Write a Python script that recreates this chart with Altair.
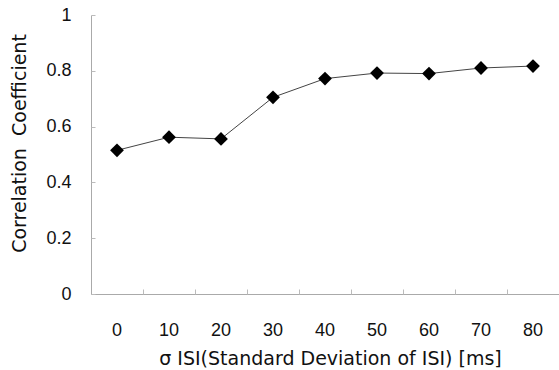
import altair as alt
import pandas as pd

sigma = ["0", "10", "20", "30", "40", "50", "60", "70", "80"]
corr = [0.515, 0.562, 0.556, 0.705, 0.772, 0.792, 0.790, 0.810, 0.817]
y_ticks = [0, 0.2, 0.4, 0.6, 0.8, 1.0]

df = pd.DataFrame({"sigma": sigma, "corr": corr})

FONT = "Liberation Sans"
TFONT = "DejaVu Sans"

x_scale = alt.Scale(type="band", domain=sigma, paddingInner=0, paddingOuter=0)
y_scale = alt.Scale(domain=[0, 1], nice=False)

base = alt.Chart(df)

line = base.mark_line(color="#444", strokeWidth=1).encode(
    x=alt.X("sigma:N", scale=x_scale, sort=sigma,
            axis=alt.Axis(title="σ ISI(Standard Deviation of ISI) [ms]",
                          labelAngle=0, ticks=False, labelPadding=27,
                          labelFontSize=18, labelFont=FONT, labelColor="#111",
                          titleFontSize=19, titleFont=TFONT, titleFontWeight="normal",
                          titleColor="#111", titleBaseline="alphabetic",
                          titleX=239, titleY=70,
                          domainColor="#aaa", domainWidth=1)),
    y=alt.Y("corr:Q", scale=y_scale,
            axis=alt.Axis(title="Correlation\u00a0\u00a0Coefficient", values=y_ticks,
                          format=".1~f", ticks=False, labelPadding=20,
                          labelFontSize=18, labelFont=FONT, labelColor="#111",
                          titleFontSize=19, titleFont=TFONT, titleFontWeight="normal",
                          titleColor="#111", titleBaseline="alphabetic",
                          titleX=-66, titleY=128,
                          domainColor="#aaa", domainWidth=1)),
)

pts = base.mark_point(shape="diamond", filled=True, color="#000", size=190, opacity=1).encode(
    x=alt.X("sigma:N", scale=x_scale, sort=sigma,
            axis=alt.Axis(orient="top", offset=-279, labels=False, domain=False,
                          title=None, ticks=True, tickSize=5, tickColor="#bbb",
                          tickBand="extent")),
    y=alt.Y("corr:Q", scale=y_scale,
            axis=alt.Axis(orient="right", offset=-468, labels=False, domain=False,
                          title=None, values=y_ticks, ticks=True, tickSize=4,
                          tickColor="#bbb")),
)

chart = alt.layer(line, pts).resolve_axis(x="independent", y="independent").properties(
    width=468, height=279,
    autosize="none",
    padding={"left": 91, "top": 15, "right": 0, "bottom": 76},
).configure_view(stroke=None).configure_axis(grid=False)

chart.save("out.html", embed_options={"renderer": "svg", "actions": False})
